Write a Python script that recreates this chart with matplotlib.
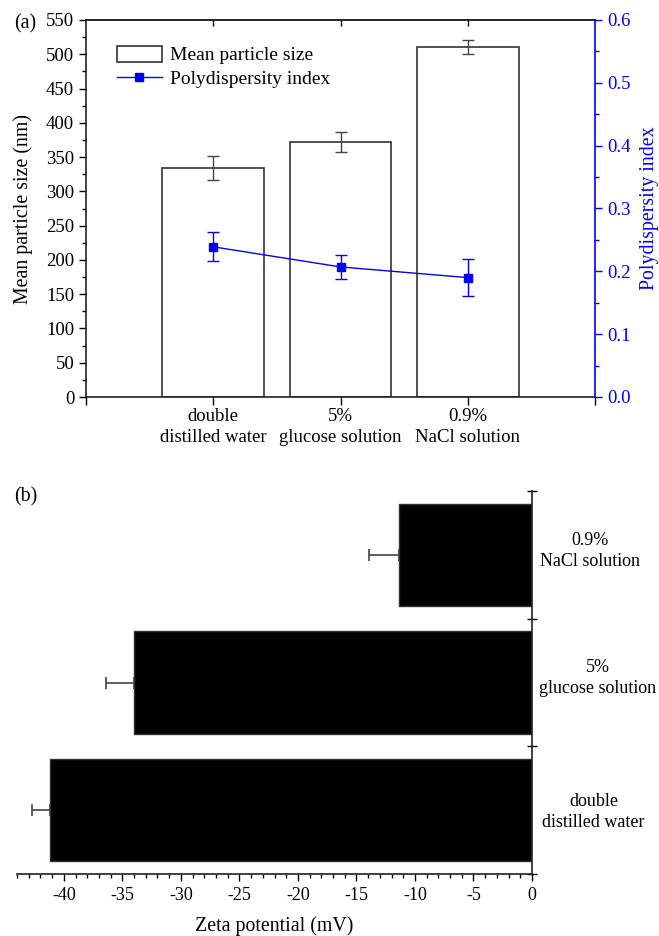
import matplotlib
matplotlib.use("Agg")
import matplotlib.pyplot as plt
from matplotlib.ticker import MultipleLocator, FixedLocator
import matplotlib.transforms as mtransforms
import numpy as np

plt.rcParams['font.family'] = ['Liberation Serif', 'DejaVu Serif']

# ---- data ----
categories_a = ["double\ndistilled water", "5%\nglucose solution", "0.9%\nNaCl solution"]
size_mean = [334, 372, 511]
size_err = [18, 14, 10]
pdi_mean = [0.239, 0.207, 0.190]
pdi_err = [0.023, 0.019, 0.029]

categories_b = ["double\ndistilled water", "5%\nglucose solution", "0.9%\nNaCl solution"]
zeta_mean = [-41.2, -34.0, -11.4]
zeta_err = [1.5, 2.4, 2.5]

W, H = 659, 936
fig = plt.figure(figsize=(W / 100, H / 100), dpi=100)

FS = 13.5
LFS = 14.3
BLUE = '#0000ff'

# ---- panel (a) ----
ax = fig.add_axes([86 / W, 1 - 397 / H, 509 / W, 377 / H])
x = np.arange(1, len(categories_a) + 1)
bars = ax.bar(x, size_mean, width=0.8, facecolor='white', edgecolor='#333333',
              linewidth=1.2, zorder=2, label='Mean particle size')
ax.errorbar(x, size_mean, yerr=size_err, fmt='none', ecolor='#444444',
            elinewidth=1.0, capsize=4, capthick=1.0, zorder=3)
ax.set_xlim(0, 4)
ax.set_ylim(0, 550)
ax.yaxis.set_major_locator(MultipleLocator(50))
ax.yaxis.set_minor_locator(MultipleLocator(25))
ax.set_xticks([0] + list(x) + [4])
ax.set_xticklabels([''] + categories_a + [''], fontsize=FS, linespacing=1.3)
ax.tick_params(axis='x', which='major', direction='out', length=6, width=1, pad=2)
ax.tick_params(axis='y', which='major', direction='out', length=5, width=1, labelsize=FS)
ax.tick_params(axis='y', which='minor', direction='out', length=3, width=1)
for s in ['top', 'left', 'bottom']:
    ax.spines[s].set_linewidth(1.2)
    ax.spines[s].set_color('#222222')
ax.spines['right'].set_visible(False)
ax.set_ylabel("Mean particle size (nm)", fontsize=LFS)
ax.yaxis.set_label_coords(-0.104, 0.5)

top = ax.secondary_xaxis('top')
top.set_xticks(x)
top.set_xticklabels([])
top.tick_params(direction='in', length=4, width=1)
top.spines['top'].set_linewidth(1.2)
top.spines['top'].set_color('#222222')

ax2 = ax.twinx()
ax2.set_ylim(0, 0.6)
line, = ax2.plot(x, pdi_mean, color=BLUE, linewidth=1.0, marker='s', markersize=6,
                 label='Polydispersity index', zorder=4)
ax2.errorbar(x, pdi_mean, yerr=pdi_err, fmt='none', ecolor=BLUE, elinewidth=1.0,
             capsize=4, capthick=1.0, zorder=4)
ax2.yaxis.set_major_locator(MultipleLocator(0.1))
ax2.yaxis.set_minor_locator(MultipleLocator(0.05))
ax2.yaxis.set_major_formatter(matplotlib.ticker.FormatStrFormatter('%.1f'))
ax2.tick_params(axis='y', which='major', direction='out', length=5, width=1,
                colors=BLUE, labelsize=FS)
ax2.tick_params(axis='y', which='minor', direction='out', length=3, width=1, colors=BLUE)
ax2.spines['right'].set_color(BLUE)
ax2.spines['right'].set_linewidth(1.2)
for s in ['top', 'left', 'bottom']:
    ax2.spines[s].set_visible(False)
ax2.set_ylabel("Polydispersity index", fontsize=LFS, color=BLUE)
ax2.yaxis.set_label_coords(1.088, 0.5)

ax.legend([bars, line], ['Mean particle size', 'Polydispersity index'],
          loc='upper left', bbox_to_anchor=(0.061, 0.932), frameon=False,
          fontsize=14, handlelength=2.3, handleheight=0.9, borderpad=0,
          borderaxespad=0, labelspacing=0.25, handletextpad=0.4)

fig.text(14 / W, 1 - 24 / H, "(a)", fontsize=LFS, va='center', ha='left')

# ---- panel (b) ----
bx = fig.add_axes([17 / W, 1 - 874 / H, 515 / W, 383 / H])
y = np.arange(len(categories_b))
bx.errorbar(zeta_mean, y, xerr=[zeta_err, [0] * len(zeta_err)], fmt='none',
            ecolor='#444444', elinewidth=1.2, capsize=4, capthick=1.2, zorder=1)
bx.barh(y, zeta_mean, height=0.8, color='black', edgecolor='#333333', linewidth=1.0, zorder=2)
bx.set_xlim(-44, 0)
bx.set_ylim(-0.5, 2.5)
bx.xaxis.set_major_locator(MultipleLocator(5))
bx.xaxis.set_minor_locator(MultipleLocator(1))
bx.xaxis.set_major_formatter(matplotlib.ticker.FuncFormatter(lambda v, p: f"{int(round(v))}"))
bx.tick_params(axis='x', which='major', direction='out', length=5, width=1, labelsize=13, pad=4)
bx.tick_params(axis='x', which='minor', direction='out', length=3, width=1)
bx.yaxis.tick_right()
bx.yaxis.set_major_locator(FixedLocator([-0.5, 0.5, 1.5, 2.5]))
bx.yaxis.set_minor_locator(FixedLocator(list(y)))
bx.set_yticklabels([])
bx.set_yticklabels(categories_b, minor=True)
bx.tick_params(axis='y', which='major', direction='inout', length=7, width=1)
bx.tick_params(axis='y', which='minor', length=0, pad=43, labelsize=13)
offsets_px = [(2, 2), (6, 8), (-2, 8)]
for lab, (dx, dy) in zip(bx.get_yminorticklabels(), offsets_px):
    lab.set_ha('center')
    lab.set_linespacing(1.3)
    lab.set_transform(lab.get_transform() +
                      mtransforms.ScaledTranslation(dx / 100, dy / 100, fig.dpi_scale_trans))
for s in ['top', 'left']:
    bx.spines[s].set_visible(False)
for s in ['right', 'bottom']:
    bx.spines[s].set_linewidth(1.2)
    bx.spines[s].set_color('#222222')
bx.set_xlabel("Zeta potential (mV)", fontsize=LFS, labelpad=9)

fig.text(14 / W, 1 - 497 / H, "(b)", fontsize=LFS, va='center', ha='left')

fig.savefig("out.png", dpi=100)
